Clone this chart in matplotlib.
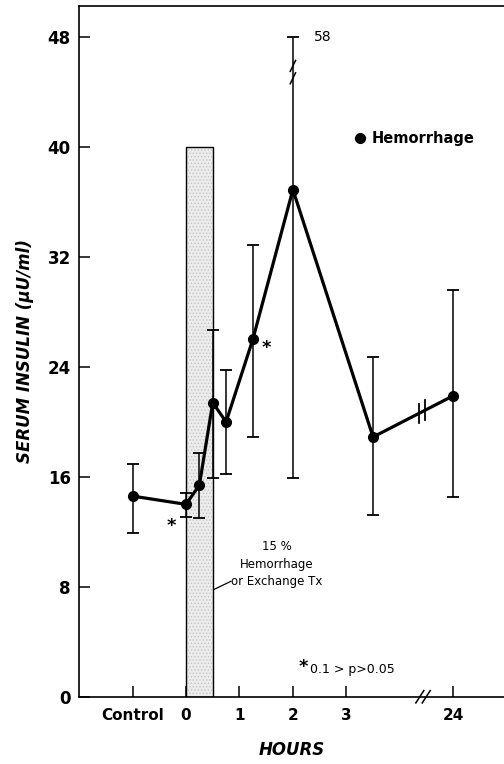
import numpy as np
import matplotlib
matplotlib.use('Agg')
import matplotlib.pyplot as plt
from matplotlib.patches import Rectangle

# time axis: Control plotted at -1, 24 h plotted at 5 (axis is broken)
tick_pos = [-1, 0, 1, 2, 3, 5]
tick_labels = ['Control', '0', '1', '2', '3', '24']

x = [-1, 0, 0.25, 0.5, 0.75, 1.25, 2, 3.5, 5]
insulin = [14.6, 14.0, 15.4, 21.4, 20.0, 26.0, 36.9, 18.9, 21.9]
err_hi = [16.9, 14.8, 17.7, 26.7, 23.8, 32.9, 48.0, 24.7, 29.6]
err_lo = [11.9, 13.1, 13.0, 15.9, 16.2, 18.9, 15.9, 13.2, 14.5]
star_idx = [1, 5]

yticks = [0, 8, 16, 24, 32, 40, 48]

plt.rcParams['hatch.linewidth'] = 0.6

fig = plt.figure(figsize=(5.04, 7.64), dpi=100)
ax = fig.add_axes([0.157, 0.088, 0.843, 0.904])

# shaded bar for the hemorrhage / exchange period (stipple + outline)
ax.add_patch(Rectangle((0, 0), 0.5, 40, facecolor='#ececec', edgecolor='#c4c4c4',
                       lw=0, hatch='.....', zorder=1))
ax.add_patch(Rectangle((0, 0), 0.5, 40, facecolor='none', edgecolor='black',
                       lw=1.0, zorder=1))

lo = np.array(insulin) - np.array(err_lo)
hi = np.array(err_hi) - np.array(insulin)
ax.errorbar(x, insulin, yerr=[lo, hi], fmt='none', ecolor='black',
            elinewidth=1.1, capsize=4.5, capthick=1.3, zorder=2)
ax.plot(x, insulin, '-o', color='black', lw=2.3, ms=7, zorder=3,
        label='Hemorrhage')

# break mark on the line between 3.5 h and 24 h
for bx in [4.36, 4.48]:
    by = np.interp(bx, x, insulin)
    ax.plot([bx, bx], [by - 0.7, by + 0.7], color='black', lw=1.3, zorder=4)

# break mark on the 2 h error bar (upper end is 58)
for d in [0, 0.9]:
    ax.plot([1.95, 2.05], [44.6 + d, 45.4 + d], color='black', lw=1.1,
            zorder=4)
ax.text(2.55, 48, '58', fontsize=10, ha='center', va='center')

for i in star_idx:
    if x[i] == 0:
        ax.text(x[i] - 0.27, insulin[i] - 1.6, '*', fontsize=13,
                fontweight='bold', ha='center', va='center')
    else:
        ax.text(x[i] + 0.25, insulin[i] - 0.6, '*', fontsize=13,
                fontweight='bold', ha='center', va='center')

ax.text(1.7, 11.4, '15 %\nHemorrhage\nor Exchange Tx', fontsize=8.5,
        ha='center', va='top', linespacing=1.45)
ax.plot([0.52, 0.84], [7.8, 8.4], color='black', lw=0.9)

ax.text(2.1, 2.2, '*', fontsize=13, fontweight='bold', ha='left',
        va='center')
ax.text(2.32, 2.0, '0.1 > p>0.05', fontsize=9, ha='left', va='center')

# broken x axis mark
for d in [0, 0.12]:
    ax.plot([4.3 + d, 4.45 + d], [-0.45, 0.45], color='black', lw=1.1,
            clip_on=False, zorder=5)

ax.legend(loc='upper left', bbox_to_anchor=(0.62, 0.838), frameon=False,
          handlelength=0.6, handletextpad=0.5,
          prop={'weight': 'bold', 'size': 10.5})

ax.set_xlim(-2, 5.95)
ax.set_ylim(0, 50.25)
ax.set_xticks(tick_pos)
ax.set_xticklabels(tick_labels, fontsize=11, fontweight='bold')
ax.set_yticks(yticks)
ax.set_yticklabels([str(v) for v in yticks], fontsize=12, fontweight='bold')
ax.tick_params(axis='both', direction='in', length=8, width=1.1)
ax.tick_params(axis='x', pad=8)
ax.tick_params(axis='y', pad=6)
ax.spines['right'].set_visible(False)
for s in ['left', 'top', 'bottom']:
    ax.spines[s].set_linewidth(1.2)

ax.set_xlabel('HOURS', fontsize=12, style='italic', fontweight='bold',
              labelpad=13)
ax.set_ylabel('SERUM INSULIN (\u03bcU/ml)', fontsize=12, style='italic',
              fontweight='bold', labelpad=10)

fig.savefig('out.png', dpi=100)
